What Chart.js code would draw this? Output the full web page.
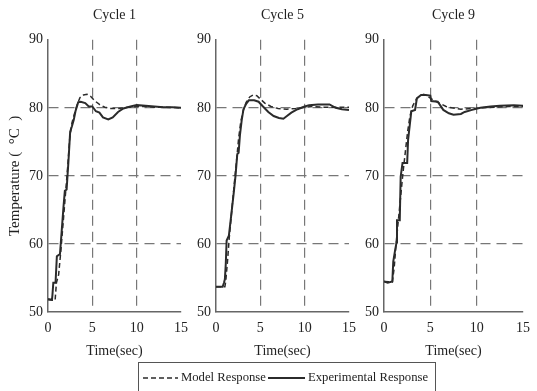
<!DOCTYPE html>
<html>
<head>
<meta charset="utf-8">
<script src="https://cdn.jsdelivr.net/npm/chart.js@4"></script>
<style>
  body { margin: 0; background: #fff; width: 537px; height: 391px; overflow: hidden; position: relative; font-family: "Liberation Serif", serif; }
  .panel { position: absolute; top: 0; height: 365px; }
  #legend { position: absolute; left: 138px; top: 362px; width: 298px; height: 40px; border: 1px solid #555; box-sizing: border-box;
            display: flex; align-items: flex-start; padding-top: 7px; padding-left: 4px; font-size: 12.7px; color: #222; white-space: nowrap; }
  #legend .item { display: flex; align-items: center; margin-right: 2px; }
  #legend svg { margin-right: 3px; }
</style>
</head>
<body>
<div class="panel" id="p1" style="left:0px;width:196px"><canvas id="c1"></canvas></div>
<div class="panel" id="p2" style="left:168px;width:196px"><canvas id="c2"></canvas></div>
<div class="panel" id="p3" style="left:336px;width:202px"><canvas id="c3"></canvas></div>
<div id="legend"></div>
<script>
// panel titles and series names
var cycles = ['Cycle 1', 'Cycle 5', 'Cycle 9'];
var seriesNames = ['Model Response', 'Experimental Response'];
var xTicks = [0, 5, 10, 15];
var yTicks = [50, 60, 70, 80, 90];

// Cycle 1
var c1ModelT = [0, 0.8, 0.95, 1.2, 1.45, 1.7, 1.95, 2.2, 2.45, 2.7, 3.0, 3.3, 3.6, 4.0, 4.4, 4.8, 5.3, 5.8, 6.4, 7.0, 8.0, 9.0, 10, 11, 12, 13, 15];
var c1Model  = [51.8, 51.7, 54.3, 55.5, 59, 63, 67, 71, 75.5, 77.8, 79.2, 80.5, 81.5, 81.9, 82.0, 81.7, 81.0, 80.5, 80.1, 79.9, 79.9, 80.1, 80.2, 80.2, 80.1, 80.1, 80.0];
var c1ExpT = [0, 0.45, 0.5, 0.6, 0.85, 1.0, 1.35, 1.55, 1.75, 1.9, 2.1, 2.3, 2.5, 2.7, 2.9, 3.1, 3.4, 3.7, 4.2, 4.6, 5.0, 5.4, 5.8, 6.2, 6.8, 7.3, 7.9, 8.5, 9.3, 10, 11, 12, 13, 14, 15];
var c1Exp  = [51.9, 51.8, 52.5, 54.3, 54.3, 58.2, 58.5, 62, 65.5, 67.8, 68, 72, 76.5, 77.3, 78.2, 79.5, 80.8, 80.9, 80.7, 80.2, 80.2, 79.5, 79.3, 78.6, 78.3, 78.6, 79.4, 79.9, 80.2, 80.4, 80.3, 80.2, 80.1, 80.1, 80.0];

// Cycle 5
var c5ModelT = [0, 1.0, 1.1, 1.3, 1.5, 1.75, 2.0, 2.3, 2.55, 2.8, 3.1, 3.4, 3.8, 4.2, 4.6, 5.0, 5.5, 6.2, 7.0, 8.0, 9.0, 10, 11, 12, 13, 15];
var c5Model  = [53.7, 53.7, 54.5, 57.5, 61, 64.5, 68, 72, 75.5, 78, 79.7, 80.8, 81.6, 81.9, 81.8, 81.3, 80.7, 80.2, 79.9, 79.8, 79.9, 80.1, 80.2, 80.1, 80.1, 80.1];
var c5ExpT = [0, 0.75, 0.9, 1.0, 1.1, 1.2, 1.45, 1.7, 2.0, 2.2, 2.4, 2.55, 2.7, 2.9, 3.1, 3.4, 3.7, 4.3, 4.8, 5.3, 5.9, 6.5, 7.1, 7.6, 8.0, 8.5, 9.2, 10, 10.5, 11.5, 12.8, 13.5, 14.2, 15];
var c5Exp  = [53.7, 53.7, 54.3, 54.8, 57, 60.5, 61.2, 64, 67.5, 70, 73.2, 73.4, 76, 78.2, 79.8, 80.6, 81.1, 81.1, 80.9, 80.2, 79.4, 78.8, 78.5, 78.4, 78.8, 79.3, 79.8, 80.2, 80.4, 80.5, 80.5, 80.0, 79.8, 79.7];

// Cycle 9
var c9ModelT = [0, 0.9, 1.1, 1.3, 1.55, 1.8, 2.05, 2.3, 2.55, 2.8, 3.1, 3.5, 3.9, 4.3, 4.8, 5.4, 6.1, 6.7, 7.3, 8.3, 9.5, 10.5, 12, 13.5, 15];
var c9Model  = [54.5, 54.4, 56.5, 60, 63.5, 67, 70.5, 73.5, 76.5, 78.8, 80.3, 81.3, 81.8, 82.0, 81.6, 81.1, 80.6, 80.2, 80.0, 79.8, 79.9, 80.0, 80.1, 80.2, 80.2];
var c9ExpT = [0, 0.4, 0.9, 1.0, 1.2, 1.35, 1.4, 1.7, 1.8, 2.0, 2.5, 2.6, 2.95, 3.35, 3.55, 4.0, 4.5, 5.0, 5.1, 5.8, 6.4, 7.0, 7.5, 8.3, 8.7, 9.5, 10.4, 11.5, 12.5, 14.0, 15];
var c9Exp  = [54.5, 54.3, 54.5, 57.4, 59.1, 60.2, 63.5, 63.5, 69.9, 71.9, 71.9, 75.3, 79.5, 79.7, 81.4, 81.9, 81.9, 81.8, 81.0, 80.9, 79.7, 79.2, 79.0, 79.1, 79.4, 79.7, 80.0, 80.2, 80.3, 80.4, 80.3];

var modelTimes = [c1ModelT, c5ModelT, c9ModelT];
var modelVals = [c1Model, c5Model, c9Model];
var expTimes = [c1ExpT, c5ExpT, c9ExpT];
var expVals = [c1Exp, c5Exp, c9Exp];

var lineColor = '#2b2b2b';
var serif = 'Liberation Serif';

function pairs(ts, vs) {
    return ts.map(function (t, i) { return {x: t, y: vs[i]}; });
}

function makeChart(id, idx, padRight) {
    return new Chart(id, {
        type: 'line',
        data: {
            datasets: [{
                label: seriesNames[0],
                data: pairs(modelTimes[idx], modelVals[idx]),
                borderColor: lineColor,
                borderWidth: 1.5,
                borderDash: [5, 3],
                pointRadius: 0,
                tension: 0
            }, {
                label: seriesNames[1],
                data: pairs(expTimes[idx], expVals[idx]),
                borderColor: lineColor,
                borderWidth: 2,
                pointRadius: 0,
                tension: 0
            }]
        },
        options: {
            responsive: true,
            maintainAspectRatio: false,
            animation: false,
            layout: {padding: {left: 0, right: padRight, top: 0, bottom: 0}},
            plugins: {
                legend: {display: false},
                tooltip: {enabled: false},
                title: {
                    display: true,
                    text: cycles[idx],
                    fullSize: false,
                    color: '#222',
                    font: {family: serif, size: 14, weight: 'normal'},
                    padding: {top: 7, bottom: 16}
                }
            },
            scales: {
                x: {
                    type: 'linear',
                    min: xTicks[0],
                    max: xTicks[xTicks.length - 1],
                    afterBuildTicks: function (s) { s.ticks = xTicks.map(function (v) { return {value: v}; }); },
                    afterFit: function (s) { s.height = 53; },
                    ticks: {color: '#222', font: {family: serif, size: 14}, padding: 8, maxRotation: 0},
                    grid: {
                        drawTicks: false,
                        lineWidth: 1.2,
                        color: function (c) { return (c.tick && c.tick.value > xTicks[0] && c.tick.value < xTicks[xTicks.length - 1]) ? '#777' : 'rgba(0,0,0,0)'; }
                    },
                    border: {display: true, color: '#666', width: 1.5, dash: [10, 6]},
                    title: {display: true, text: 'Time(sec)', color: '#222', font: {family: serif, size: 14}, padding: {top: 0, bottom: 5}}
                },
                y: {
                    min: yTicks[0],
                    max: yTicks[yTicks.length - 1],
                    afterBuildTicks: function (s) { s.ticks = yTicks.map(function (v) { return {value: v}; }); },
                    afterFit: function (s) { s.width = 48; },
                    ticks: {color: '#222', font: {family: serif, size: 14}, padding: 5},
                    grid: {
                        drawTicks: false,
                        lineWidth: 1.2,
                        color: function (c) { return (c.tick && c.tick.value > yTicks[0] && c.tick.value < yTicks[yTicks.length - 1]) ? '#777' : 'rgba(0,0,0,0)'; }
                    },
                    border: {display: true, color: '#666', width: 1.5, dash: [10, 6]},
                    title: {display: idx === 0, text: 'Temperature (  \u00B0C  )', color: '#222', font: {family: serif, size: 15}, padding: {top: 6, bottom: 0}}
                }
            }
        }
    });
}

var charts = [makeChart('c1', 0, 8), makeChart('c2', 1, 8), makeChart('c3', 2, 7)];

// legend box built from the series names and their line styles
var legend = document.getElementById('legend');
seriesNames.forEach(function (name, i) {
    var item = document.createElement('div');
    item.className = 'item';
    var dash = i === 0 ? 'stroke-dasharray="5,3"' : '';
    item.innerHTML = '<svg width="' + (i === 0 ? 35 : 37) + '" height="10"><line x1="0" y1="5" x2="40" y2="5" stroke="' + lineColor + '" stroke-width="' + (i === 0 ? 1.5 : 2) + '" ' + dash + '/></svg><span>' + name + '</span>';
    legend.appendChild(item);
});
</script>
</body>
</html>
